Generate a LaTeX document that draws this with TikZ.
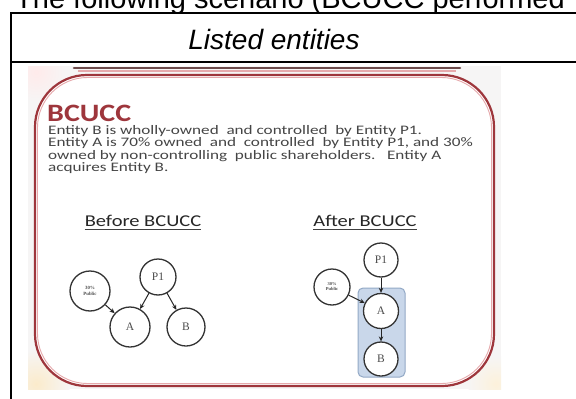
\documentclass[tikz,border=0pt]{standalone}
\usepackage{fontspec}
\setmainfont{Liberation Sans}
\newfontfamily\slidefont{Carlito}
\newfontfamily\nodeserif{Liberation Serif}
\usetikzlibrary{arrows.meta}
\definecolor{slidered}{HTML}{9E363C}
\definecolor{slidepink}{HTML}{E6A9AC}
\definecolor{slidebg}{HTML}{F6F5F5}
\definecolor{cornertint}{HTML}{FBEBCB}
\definecolor{bodygray}{HTML}{454545}
\definecolor{bandbrown}{HTML}{6E4B4B}
\definecolor{boxblue}{HTML}{C9D7EA}
\definecolor{boxedge}{HTML}{93A9C6}
\tikzset{
  tableline/.style={line width=2pt, black},
  entity/.style={circle, draw=black!80, line width=1.3pt, fill=white, minimum size=#1, inner sep=0pt,
    font=\nodeserif\fontsize{11.5}{11.5}\selectfont, text=black!70},
  entity/.default=36pt,
  own/.style={-{Stealth[length=5pt,width=4.5pt]}, line width=1pt, black!85},
  bodytext/.style={anchor=base west, inner sep=0pt, text=bodygray, font=\slidefont\fontsize{13}{13}\selectfont},
  heading/.style={anchor=base, inner sep=0pt, text=black!85, font=\slidefont\fontsize{16.5}{16.5}\selectfont},
}
\begin{document}
\begin{tikzpicture}[x=1pt,y=-1pt]
\useasboundingbox (0,0) rectangle (576,399);
\begin{scope}
\clip (0,0) rectangle (576,399);
% top cut-off sentence
\node[anchor=base west, inner sep=0pt, font=\fontsize{29}{32}\selectfont] (intro) at (15,8) {The following scenario (BCUCC performed};
% table frame
\draw[tableline] (11,13) -- (577,13);
\draw[tableline] (11,62) -- (577,62);
\draw[tableline] (11,12) -- (11,400);
\node[anchor=base, inner sep=0pt, font=\itshape\fontsize{28}{30}\selectfont] (hdr) at (274,49) {Listed entities};
% slide picture
\fill[slidebg] (28,66) rectangle (501,389);
\begin{scope}
\clip (28,66) rectangle (501,389);
\shade[inner color=cornertint, outer color=slidebg] (36,384) circle (34pt);
\shade[inner color=cornertint!70, outer color=slidebg] (496,384) circle (28pt);
\shade[inner color=red!8, outer color=slidebg] (36,72) circle (30pt);
\end{scope}
\draw[slidepink, line width=1.4pt] (78,71) -- (456,71);
\draw[bandbrown, line width=2.6pt, line cap=round] (74,68) -- (460,68);
\draw[slidered, line width=2.2pt, fill=white, rounded corners=52pt] (35,75) rectangle (494,386);
\draw[slidepink, line width=0.9pt, rounded corners=50pt] (37.5,77.5) rectangle (491.5,383.5);
% title and text
\node[anchor=base west, inner sep=0pt, text=slidered, font=\slidefont\bfseries\fontsize{25}{25}\selectfont] (title) at (47,121) {\scalebox{1.2}[1]{BCUCC}};
\node[bodytext] (l1) at (48,134) {\scalebox{1.32}[1]{Entity B is wholly-owned\ \ and controlled\ \ by Entity P1.}};
\node[bodytext] (l2) at (48,146.5) {\scalebox{1.32}[1]{Entity A is 70\% owned\ \ and\ \ controlled\ \ by Entity P1, and 30\%}};
\node[bodytext] (l3) at (48,159) {\scalebox{1.32}[1]{owned by non-controlling\ \ public shareholders.\ \ \ Entity A}};
\node[bodytext] (l4) at (48,171.5) {\scalebox{1.32}[1]{acquires Entity B.}};
\node[heading] (before) at (143,226) {\scalebox{1.24}[1]{Before BCUCC}};
\draw[black!75, line width=1pt] ([yshift=-3pt]before.base west) -- ([yshift=-3pt]before.base east);
\node[heading] (after) at (365,226) {\scalebox{1.24}[1]{After BCUCC}};
\draw[black!75, line width=1pt] ([yshift=-3pt]after.base west) -- ([yshift=-3pt]after.base east);
% before diagram
\node[entity=40pt, align=center, font=\nodeserif\bfseries\fontsize{4.8}{5.2}\selectfont] (pubB) at (90,291) {30\%\\Public};
\node[entity=36pt] (p1B) at (158,277) {P1};
\node[entity=40pt] (aB) at (130,327) {A};
\node[entity=38pt] (bB) at (186,327) {B};
\draw[own] (pubB) -- (aB);
\draw[own] (p1B) -- (aB);
\draw[own] (p1B) -- (bB);
% after diagram
\draw[boxedge, fill=boxblue, line width=1pt, rounded corners=5pt] (358,288) rectangle (405,377);
\node[entity=34pt] (p1A) at (381,260) {P1};
\node[entity=36pt, align=center, font=\nodeserif\bfseries\fontsize{4.5}{5}\selectfont] (pubA) at (332,287) {30\%\\Public};
\node[entity=35pt] (aA) at (381,311) {A};
\node[entity=34pt] (bA) at (381,359) {B};
\draw[own] (p1A) -- (aA);
\draw[own] (pubA) -- (aA);
\draw[own] (aA) -- (bA);
\end{scope}
\end{tikzpicture}
\end{document}
